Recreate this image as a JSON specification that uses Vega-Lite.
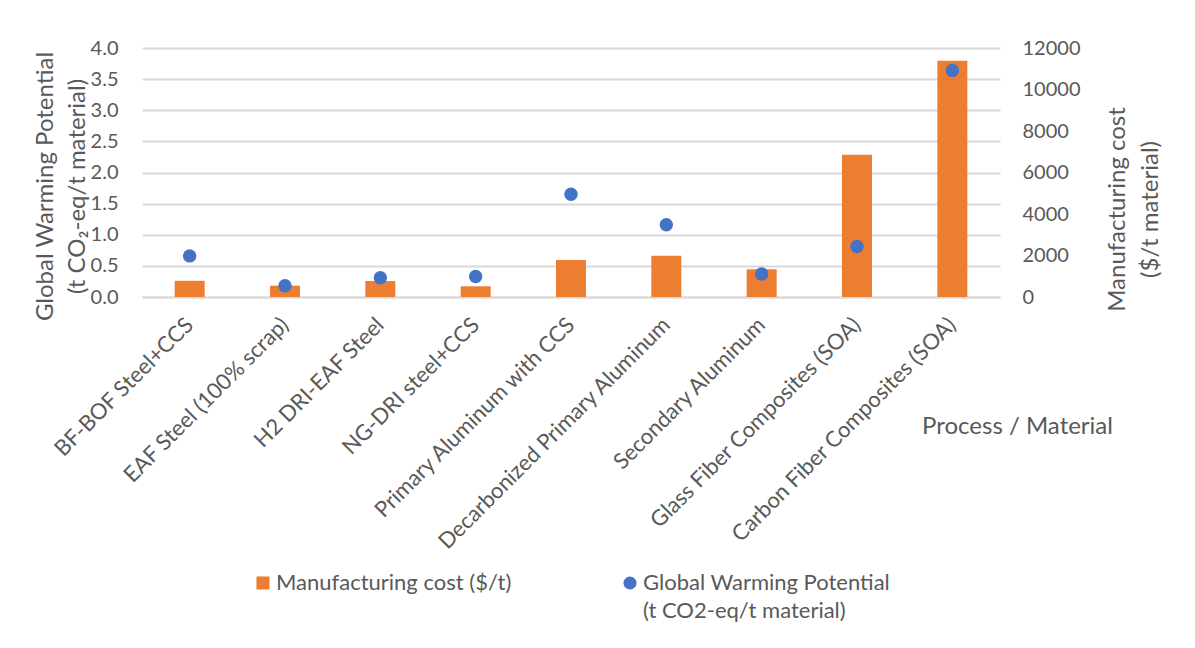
{
  "$schema": "https://vega.github.io/schema/vega-lite/v6.json",
  "width": 858,
  "height": 249,
  "autosize": {"type": "none"},
  "padding": {"left": 142, "top": 48, "right": 195, "bottom": 351},
  "background": "white",
  "config": {
    "font": "Lato",
    "view": {"stroke": null},
    "axis": {
      "labelColor": "#595959",
      "titleColor": "#595959",
      "labelFontSize": 20,
      "titleFontSize": 24,
      "titleFontWeight": "normal",
      "labelFont": "Lato",
      "titleFont": "Lato",
      "ticks": false
    },
    "legend": {
      "labelColor": "#595959",
      "labelFontSize": 22,
      "labelFont": "Lato"
    }
  },
  "data": {
    "values": [
      {"process": "BF-BOF Steel+CCS", "cost": 780, "gwp": 0.66},
      {"process": "EAF Steel (100% scrap)", "cost": 545, "gwp": 0.18},
      {"process": "H2 DRI-EAF Steel", "cost": 770, "gwp": 0.31},
      {"process": "NG-DRI steel+CCS", "cost": 515, "gwp": 0.33},
      {"process": "Primary Aluminum with CCS", "cost": 1785, "gwp": 1.65},
      {"process": "Decarbonized Primary Aluminum", "cost": 1990, "gwp": 1.16},
      {"process": "Secondary Aluminum", "cost": 1335, "gwp": 0.37},
      {"process": "Glass Fiber Composites (SOA)", "cost": 6850, "gwp": 0.81},
      {"process": "Carbon Fiber Composites (SOA)", "cost": 11380, "gwp": 3.64}
    ]
  },
  "encoding": {
    "x": {
      "field": "process",
      "type": "nominal",
      "sort": null,
      "scale": {"paddingInner": 0, "paddingOuter": 0},
      "axis": {
        "title": "Process / Material",
        "titleX": 875,
        "titleY": 129,
        "titleAlign": "center",
        "titleBaseline": "middle",
        "titleAngle": 0,
        "labelAngle": -45,
        "labelAlign": "right",
        "labelBaseline": "middle",
        "labelFontSize": 22,
        "labelPadding": 24,
        "labelLimit": 0,
        "domain": true,
        "domainColor": "#d9d9d9",
        "domainWidth": 2
      }
    },
    "color": {
      "scale": {
        "domain": ["Manufacturing cost ($/t)", "Global Warming Potential"],
        "range": ["#ED7D31", "#4472C4"]
      },
      "legend": {
        "title": null,
        "orient": "none",
        "direction": "horizontal",
        "columns": 2,
        "legendX": 110,
        "legendY": 524,
        "columnPadding": 107,
        "symbolSize": 170,
        "symbolStrokeWidth": 0,
        "labelOffset": 2,
        "labelLimit": 0,
        "labelBaseline": "top",
        "labelExpr": "datum.label == 'Global Warming Potential' ? ['Global Warming Potential', '(t CO2-eq/t material)'] : [datum.label, '']",
        "encode": {
          "symbols": {
            "update": {
              "shape": {"signal": "datum.value == 'Global Warming Potential' ? 'circle' : 'square'"},
              "strokeWidth": {"value": 0}
            }
          },
          "labels": {
            "update": {
              "dy": {"value": -10},
              "lineHeight": {"value": 28}
            }
          }
        }
      }
    }
  },
  "layer": [
    {
      "mark": {"type": "bar", "width": 30},
      "encoding": {
        "y": {
          "field": "cost",
          "type": "quantitative",
          "scale": {"domain": [0, 12000], "nice": false},
          "axis": {
            "orient": "right",
            "values": [0, 2000, 4000, 6000, 8000, 10000, 12000],
            "format": "d",
            "grid": false,
            "domain": false,
            "labelPadding": 22,
            "title": ["Manufacturing cost", "($/t material)"],
            "titleAngle": -90,
            "titleAlign": "center",
            "titleBaseline": "middle",
            "titleLineHeight": 33,
            "titleX": 117,
            "titleY": 161
          }
        },
        "color": {"datum": "Manufacturing cost ($/t)"}
      }
    },
    {
      "mark": {"type": "point", "filled": true, "size": 180, "opacity": 1, "strokeWidth": 0},
      "encoding": {
        "y": {
          "field": "gwp",
          "type": "quantitative",
          "scale": {"domain": [0, 4], "nice": false},
          "axis": {
            "orient": "left",
            "values": [0, 0.5, 1, 1.5, 2, 2.5, 3, 3.5, 4],
            "format": ".1f",
            "grid": true,
            "gridColor": "#d9d9d9",
            "gridWidth": 2,
            "domain": false,
            "labelPadding": 24,
            "title": ["Global Warming Potential", "(t CO₂-eq/t material)"],
            "titleAngle": -90,
            "titleAlign": "center",
            "titleBaseline": "middle",
            "titleLineHeight": 32,
            "titleX": -97,
            "titleY": 138
          }
        },
        "color": {"datum": "Global Warming Potential"}
      }
    }
  ],
  "resolve": {"scale": {"y": "independent"}}
}
